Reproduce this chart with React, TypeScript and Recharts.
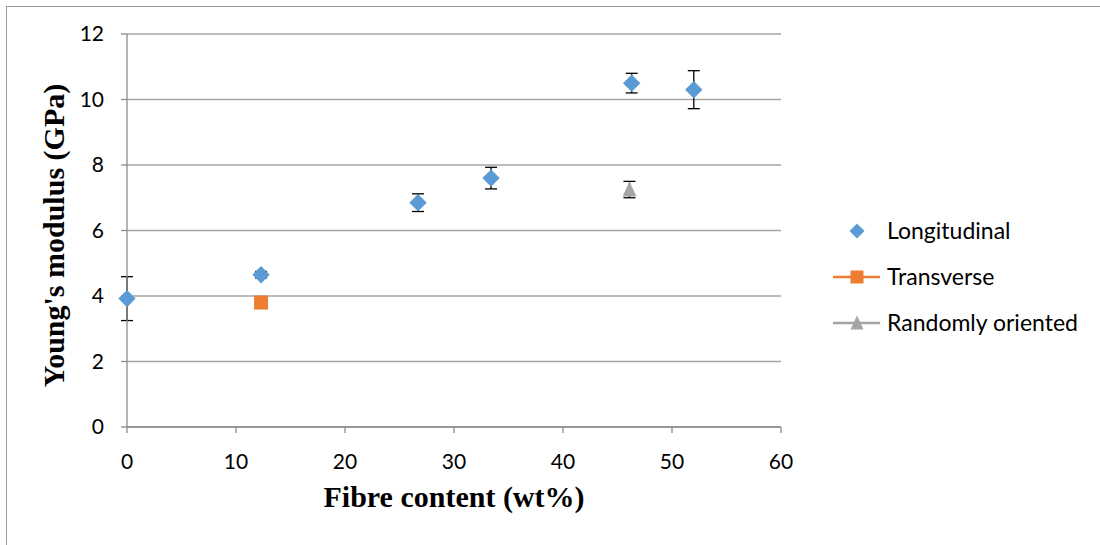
import { ScatterChart, Scatter, XAxis, YAxis, CartesianGrid, ErrorBar } from "recharts"

// Fibre content (wt%) and Young's modulus (GPa)
const longX = [0, 12.3, 26.7, 33.4, 46.3, 52]
const longY = [3.92, 4.65, 6.85, 7.6, 10.5, 10.3]
const longErr = [0.67, 0.1, 0.27, 0.33, 0.3, 0.58]

const transX = [12.3]
const transY = [3.8]
const transErr = [0]

const randX = [46.1]
const randY = [7.25]
const randErr = [0.25]

const xTicks = [0, 10, 20, 30, 40, 50, 60]
const yTicks = [0, 2, 4, 6, 8, 10, 12]

const seriesNames = ["Longitudinal", "Transverse", "Randomly oriented"]
const seriesColors = ["#5B9BD5", "#ED7D31", "#A5A5A5"]

const toRows = (xs: number[], ys: number[], es: number[]) =>
  xs.map((x, i) => ({ x, y: ys[i], err: es[i] }))

const longData = toRows(longX, longY, longErr)
const transData = toRows(transX, transY, transErr)
const randData = toRows(randX, randY, randErr)

const Diamond = ({ cx, cy, fill, r = 8.7 }: any) => (
  <path d={`M${cx},${cy - r}L${cx + r},${cy}L${cx},${cy + r}L${cx - r},${cy}Z`} fill={fill} />
)
const Square = ({ cx, cy, fill, r = 7 }: any) => (
  <rect x={cx - r} y={cy - r} width={r * 2} height={r * 2} fill={fill} />
)
const Triangle = ({ cx, cy, fill, r = 7 }: any) => (
  <path d={`M${cx},${cy - r - 1}L${cx + r},${cy + r}L${cx - r},${cy + r}Z`} fill={fill} />
)

const font = "Lato, 'Open Sans', sans-serif"
const serif = "'Liberation Serif', 'Times New Roman', serif"

function LegendBox() {
  const rowH = 46
  return (
    <svg width={270} height={140} style={{ display: "block" }}>
      {seriesNames.map((name, i) => {
        const cy = 16 + i * rowH
        return (
          <g key={name}>
            {i > 0 && <line x1={3} x2={50} y1={cy} y2={cy} stroke={seriesColors[i]} strokeWidth={2.5} />}
            {i === 0 && <Diamond cx={27} cy={cy} fill={seriesColors[0]} r={7.5} />}
            {i === 1 && <Square cx={27} cy={cy} fill={seriesColors[1]} r={6.5} />}
            {i === 2 && <Triangle cx={27} cy={cy} fill={seriesColors[2]} r={6.5} />}
            <text x={57} y={cy + 8} fontSize={23} fontFamily={font} fill="#000">
              {name}
            </text>
          </g>
        )
      })}
    </svg>
  )
}

export default function App() {
  return (
    <div style={{ position: "absolute", left: 0, top: 0, width: 1100, height: 545, background: "#fff" }}>
      <div
        style={{
          position: "absolute",
          left: 6,
          top: 6,
          width: 1100,
          height: 545,
          borderLeft: "1.5px solid #9a9a9a",
          borderTop: "1.5px solid #9a9a9a",
        }}
      />
      <ScatterChart
        width={1100}
        height={545}
        margin={{ top: 34, right: 319, left: 0, bottom: 0 }}
        style={{ fontFamily: font }}
      >
        <CartesianGrid vertical={false} stroke="#a6a6a6" strokeWidth={1.3} />
        <XAxis
          type="number"
          dataKey="x"
          domain={[0, 60]}
          ticks={xTicks}
          height={118}
          stroke="#8c8c8c"
          strokeWidth={1.3}
          tickSize={6}
          tickMargin={21}
          tick={{ fill: "#000", fontSize: 21, fontFamily: font }}
          label={{
            value: "Fibre content (wt%)",
            position: "insideTop",
            dy: 54,
            style: { fontFamily: serif, fontWeight: "bold", fontSize: 30, fill: "#000" },
          }}
        />
        <YAxis
          type="number"
          dataKey="y"
          domain={[0, 12]}
          ticks={yTicks}
          width={127}
          stroke="#8c8c8c"
          strokeWidth={1.3}
          tickSize={6}
          tickMargin={17}
          tick={{ fill: "#000", fontSize: 21, fontFamily: font }}
          label={{
            value: "Young's modulus (GPa)",
            angle: -90,
            position: "insideLeft",
            dx: 48,
            dy: 5,
            style: { fontFamily: serif, fontWeight: "bold", fontSize: 30, fill: "#000", textAnchor: "middle" },
          }}
        />
        <Scatter name={seriesNames[0]} data={longData} fill={seriesColors[0]} shape={<Diamond />} isAnimationActive={false}>
          <ErrorBar dataKey="err" direction="y" width={6} stroke="#000" strokeWidth={1.3} />
        </Scatter>
        <Scatter name={seriesNames[1]} data={transData} fill={seriesColors[1]} shape={<Square />} isAnimationActive={false} />
        <Scatter name={seriesNames[2]} data={randData} fill={seriesColors[2]} shape={<Triangle />} isAnimationActive={false}>
          <ErrorBar dataKey="err" direction="y" width={6} stroke="#000" strokeWidth={1.3} />
        </Scatter>
      </ScatterChart>
      <div style={{ position: "absolute", left: 830, top: 215 }}>
        <LegendBox />
      </div>
    </div>
  )
}
